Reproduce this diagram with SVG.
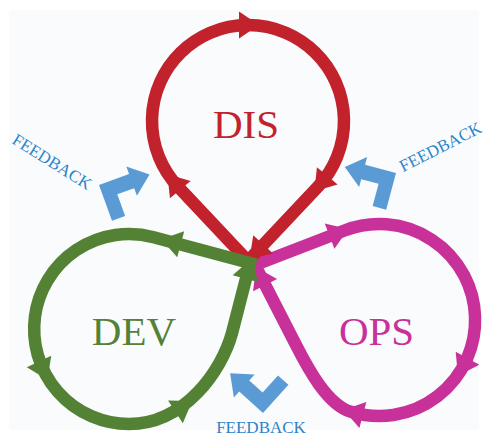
<svg xmlns="http://www.w3.org/2000/svg" xmlns:xlink="http://www.w3.org/1999/xlink" width="487" height="437" viewBox="0 0 487 437">
  <style>
    .loop { fill: none; stroke-width: 12.5; stroke-linejoin: miter; stroke-miterlimit: 4; }
    .dis { stroke: #c1222c; }
    .dev { stroke: #548235; }
    .ops { stroke: #c8319a; }
    .dis-f { fill: #c1222c; }
    .dev-f { fill: #548235; }
    .ops-f { fill: #c8319a; }
    .fb-arrow { fill: #5b9bd5; }
    .label { font-family: "Liberation Serif", "Times New Roman", serif; font-size: 41px; text-anchor: middle; }
    .fb-text { font-family: "Liberation Serif", "Times New Roman", serif; font-size: 17px; fill: #2b84c9; text-anchor: middle; }
  </style>
  <defs>
    <!-- arrowhead centred on the path, pointing along +x -->
    <path id="ah" d="M-9,-13.5 L11,0 L-9,13.5 Z"/>
    <!-- bent feedback arrow: outer corner at origin, head along +x, tail along +y -->
    <polygon id="bent" points="0,0 32,0 32,-8 51,7.5 32,23 32,15 14,15 14,38 0,38"/>
  </defs>

  <rect x="0" y="0" width="487" height="437" fill="#ffffff"/>
  <rect x="9" y="10" width="470" height="420" fill="#fafbfd"/>

  <!-- OPS loop -->
  <g id="ops">
    <path class="loop ops" d="M255,265 L344.5,230.5 A96 96 0 1 1 350.9,411.8 C327,404.5 307.4,367.3 296,345 Z"/>
    <use xlink:href="#ah" class="ops-f" transform="translate(338,233) rotate(-21)"/>
    <use xlink:href="#ah" class="ops-f" transform="translate(463.2,366.1) rotate(118.7)"/>
    <use xlink:href="#ah" class="ops-f" transform="translate(354.2,412.7) rotate(195)"/>
    <use xlink:href="#ah" class="ops-f" transform="translate(261,277) rotate(-117)"/>
    <text class="label ops-f" x="376.5" y="345">OPS</text>
  </g>

  <!-- DIS loop -->
  <g id="dis">
    <path class="loop dis" d="M248,261 L178.1,186.8 A96 96 0 1 1 317.9,186.8 Z"/>
    <use xlink:href="#ah" class="dis-f" transform="translate(248,25)"/>
    <use xlink:href="#ah" class="dis-f" transform="translate(174.5,182.7) rotate(-130)"/>
    <use xlink:href="#ah" class="dis-f" transform="translate(321.5,182.7) rotate(130)"/>
    <use xlink:href="#ah" class="dis-f" transform="translate(257,251) rotate(133)"/>
    <text class="label dis-f" x="246" y="138">DIS</text>
  </g>

  <!-- DEV loop -->
  <g id="dev">
    <path class="loop dev" d="M250,263 L153.6,237.2 A95 95 0 1 0 129,424 C185,424 222,370 232,333 Z"/>
    <use xlink:href="#ah" class="dev-f" transform="translate(172,242) rotate(195)"/>
    <use xlink:href="#ah" class="dev-f" transform="translate(42.8,369.7) rotate(65)"/>
    <use xlink:href="#ah" class="dev-f" transform="translate(183,407) rotate(-33)"/>
    <use xlink:href="#ah" class="dev-f" transform="translate(248,270) rotate(-75)"/>
    <text class="label dev-f" x="134" y="345">DEV</text>
  </g>

  <!-- feedback arrows and captions -->
  <g id="feedback-left">
    <use xlink:href="#bent" class="fb-arrow" transform="translate(99,185) rotate(-20)"/>
    <text class="fb-text" transform="translate(49,166.5) rotate(32)">FEEDBACK</text>
  </g>
  <g id="feedback-right">
    <use xlink:href="#bent" class="fb-arrow" transform="translate(396,173) scale(-1,1) rotate(-15)"/>
    <text class="fb-text" transform="translate(443,152) rotate(-27)">FEEDBACK</text>
  </g>
  <g id="feedback-bottom">
    <use xlink:href="#bent" class="fb-arrow" transform="translate(263,413) rotate(-138)"/>
    <text class="fb-text" x="261" y="433">FEEDBACK</text>
  </g>
</svg>
